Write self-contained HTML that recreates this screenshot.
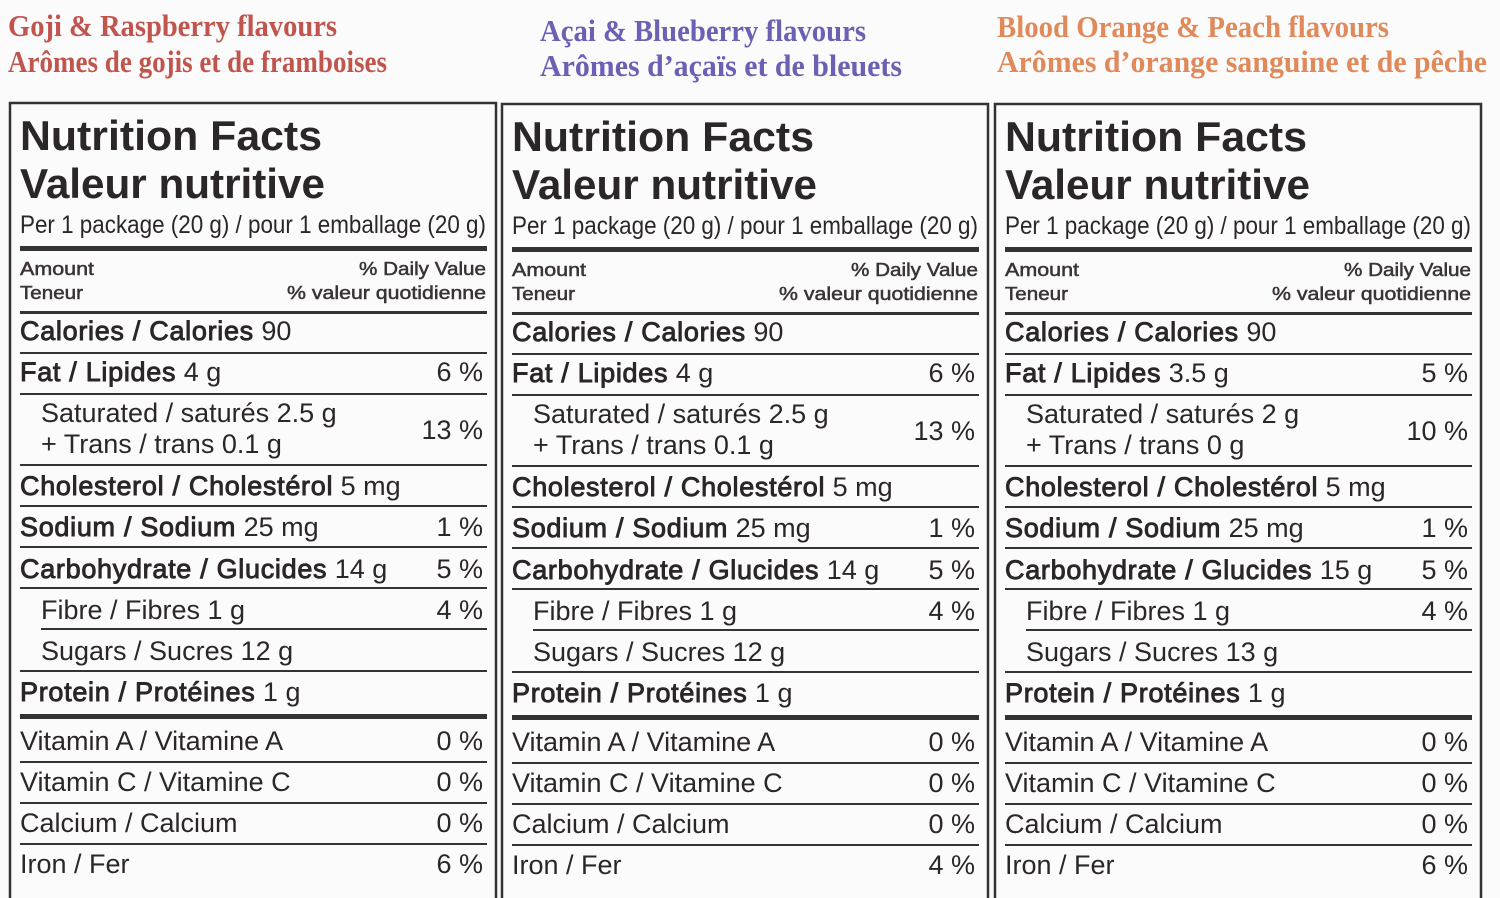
<!DOCTYPE html>
<html><head><meta charset="utf-8"><style>
html,body{margin:0;padding:0;background:#fbfbfb;}
svg{display:block;}
</style></head><body>
<svg id="s" width="1500" height="898" xmlns="http://www.w3.org/2000/svg" font-family="'Liberation Sans', sans-serif" fill="#2b2628"></svg>
<script>
const NS="http://www.w3.org/2000/svg";
const svg=document.getElementById('s');
const panelLefts=[10,502,995];
const panelDy=[0,1,1];
const headerColors=['#c2544e','#6a60b4','#e0895a'];
const headerL1=['Goji & Raspberry flavours','Açai & Blueberry flavours','Blood Orange & Peach flavours'];
const headerL2=['Arômes de gojis et de framboises','Arômes d\u2019açaïs et de bleuets','Arômes d\u2019orange sanguine et de pêche'];
const headerX=[8,540,997];
const headerW1=[329,326,392];
const headerW2=[379,362,490];
const headerY1=[36,41,37];
const headerY2=[72,76,72];
const fatVals=['4 g','4 g','3.5 g'];
const fatPct=['6 %','6 %','5 %'];
const satVals=['2.5 g','2.5 g','2 g'];
const transVals=['0.1 g','0.1 g','0 g'];
const satPct=['13 %','13 %','10 %'];
const carbVals=['14 g','14 g','15 g'];
const sugarVals=['12 g','12 g','13 g'];
const ironPct=['6 %','4 %','6 %'];

function txt(x,y,s,o){
  const t=document.createElementNS(NS,'text');
  t.setAttribute('x',x);t.setAttribute('y',y);
  t.textContent=s;
  for(const k in (o||{}))t.setAttribute(k,o[k]);
  svg.appendChild(t);return t;
}
function rect(x,y,w,h,f){
  const r=document.createElementNS(NS,'rect');
  r.setAttribute('x',x);r.setAttribute('y',y);r.setAttribute('width',w);r.setAttribute('height',h);
  r.setAttribute('fill',f||'#333');
  svg.appendChild(r);return r;
}
function row(L,dy,y,name,val,pct,indent,key){
  const t=txt(L+10+(indent?21:0),y+dy,'',{'font-size':'27'});
  const a=document.createElementNS(NS,'tspan');a.textContent=name;a.setAttribute('stroke','#2b2628');a.setAttribute('stroke-width','0.9');a.setAttribute('letter-spacing','0.7');
  const b=document.createElementNS(NS,'tspan');b.textContent=' '+val;
  t.appendChild(a);t.appendChild(b);
  
  
  if(pct){
    const p=txt(L+473,y+dy,pct,{'font-size':'27','text-anchor':'end'});
    
    
  }
}
for(let i=0;i<3;i++){
  const L=panelLefts[i],dy=panelDy[i];
  const h1=txt(headerX[i],headerY1[i],headerL1[i],{'font-family':"'Liberation Serif', serif",'font-weight':'bold','font-size':'31',fill:headerColors[i],textLength:headerW1[i],lengthAdjust:'spacingAndGlyphs'});
  
  
  const h2=txt(headerX[i],headerY2[i],headerL2[i],{'font-family':"'Liberation Serif', serif",'font-weight':'bold','font-size':'31',fill:headerColors[i],textLength:headerW2[i],lengthAdjust:'spacingAndGlyphs'});
  
  
  const br=document.createElementNS(NS,'rect');
  br.setAttribute('x',L);br.setAttribute('y',103+dy);br.setAttribute('width',486);br.setAttribute('height',820);
  br.setAttribute('fill','none');br.setAttribute('stroke','#333');br.setAttribute('stroke-width','2.5');
  
  
  svg.appendChild(br);
  const t1=txt(L+10,150+dy,'Nutrition Facts',{'font-weight':'bold','font-size':'42',textLength:302,lengthAdjust:'spacingAndGlyphs'});
  
  
  const t2=txt(L+10,198+dy,'Valeur nutritive',{'font-weight':'bold','font-size':'42',textLength:305,lengthAdjust:'spacingAndGlyphs'});
  
  
  const sv=txt(L+10,233+dy,'Per 1 package (20 g) / pour 1 emballage (20 g)',{'font-size':'25',textLength:466,lengthAdjust:'spacingAndGlyphs'});
  
  
  rect(L+10,246+dy,467,5);
  const hs={'font-size':'18',fill:'#3a3436',stroke:'#3a3436','stroke-width':'0.5'};
  txt(L+10,275+dy,'Amount',Object.assign({textLength:74,lengthAdjust:'spacingAndGlyphs'},hs));
  txt(L+10,299+dy,'Teneur',Object.assign({textLength:63,lengthAdjust:'spacingAndGlyphs'},hs));
  txt(L+476,275+dy,'% Daily Value',Object.assign({'text-anchor':'end',textLength:127,lengthAdjust:'spacingAndGlyphs'},hs));
  txt(L+476,299+dy,'% valeur quotidienne',Object.assign({'text-anchor':'end',textLength:199,lengthAdjust:'spacingAndGlyphs'},hs));
  rect(L+10,311+dy,467,3);
  row(L,dy,340,'Calories / Calories','90','',0,'calories');
  rect(L+10,352+dy,467,2);
  row(L,dy,381,'Fat / Lipides',fatVals[i],fatPct[i],0,'fat');
  rect(L+10,393+dy,467,2);
  txt(L+31,422+dy,'Saturated / saturés '+satVals[i],{'font-size':'27'});
  txt(L+31,453+dy,'+ Trans / trans '+transVals[i],{'font-size':'27'});
  txt(L+473,439+dy,satPct[i],{'font-size':'27','text-anchor':'end'});
  rect(L+10,464+dy,467,2);
  row(L,dy,495,'Cholesterol / Cholestérol','5 mg','',0,'cholesterol');
  rect(L+10,505+dy,467,2);
  row(L,dy,536,'Sodium / Sodium','25 mg','1 %',0,'sodium');
  rect(L+10,546+dy,467,2);
  row(L,dy,578,'Carbohydrate / Glucides',carbVals[i],'5 %',0,'carbohydrate');
  rect(L+10,587+dy,467,2);
  txt(L+31,619+dy,'Fibre / Fibres 1 g',{'font-size':'27'});
  txt(L+473,619+dy,'4 %',{'font-size':'27','text-anchor':'end'});
  rect(L+31,628+dy,446,2);
  txt(L+31,660+dy,'Sugars / Sucres '+sugarVals[i],{'font-size':'27'});
  rect(L+10,670+dy,467,2);
  row(L,dy,701,'Protein / Protéines','1 g','',0,'protein');
  rect(L+10,714+dy,467,5);
  txt(L+10,750+dy,'Vitamin A / Vitamine A',{'font-size':'27'});
  txt(L+473,750+dy,'0 %',{'font-size':'27','text-anchor':'end'});
  rect(L+10,761+dy,467,2);
  txt(L+10,791+dy,'Vitamin C / Vitamine C',{'font-size':'27'});
  txt(L+473,791+dy,'0 %',{'font-size':'27','text-anchor':'end'});
  rect(L+10,802+dy,467,2);
  txt(L+10,832+dy,'Calcium / Calcium',{'font-size':'27'});
  txt(L+473,832+dy,'0 %',{'font-size':'27','text-anchor':'end'});
  rect(L+10,843+dy,467,2);
  txt(L+10,873+dy,'Iron / Fer',{'font-size':'27'});
  txt(L+473,873+dy,ironPct[i],{'font-size':'27','text-anchor':'end'});
}
</script>
</body></html>
